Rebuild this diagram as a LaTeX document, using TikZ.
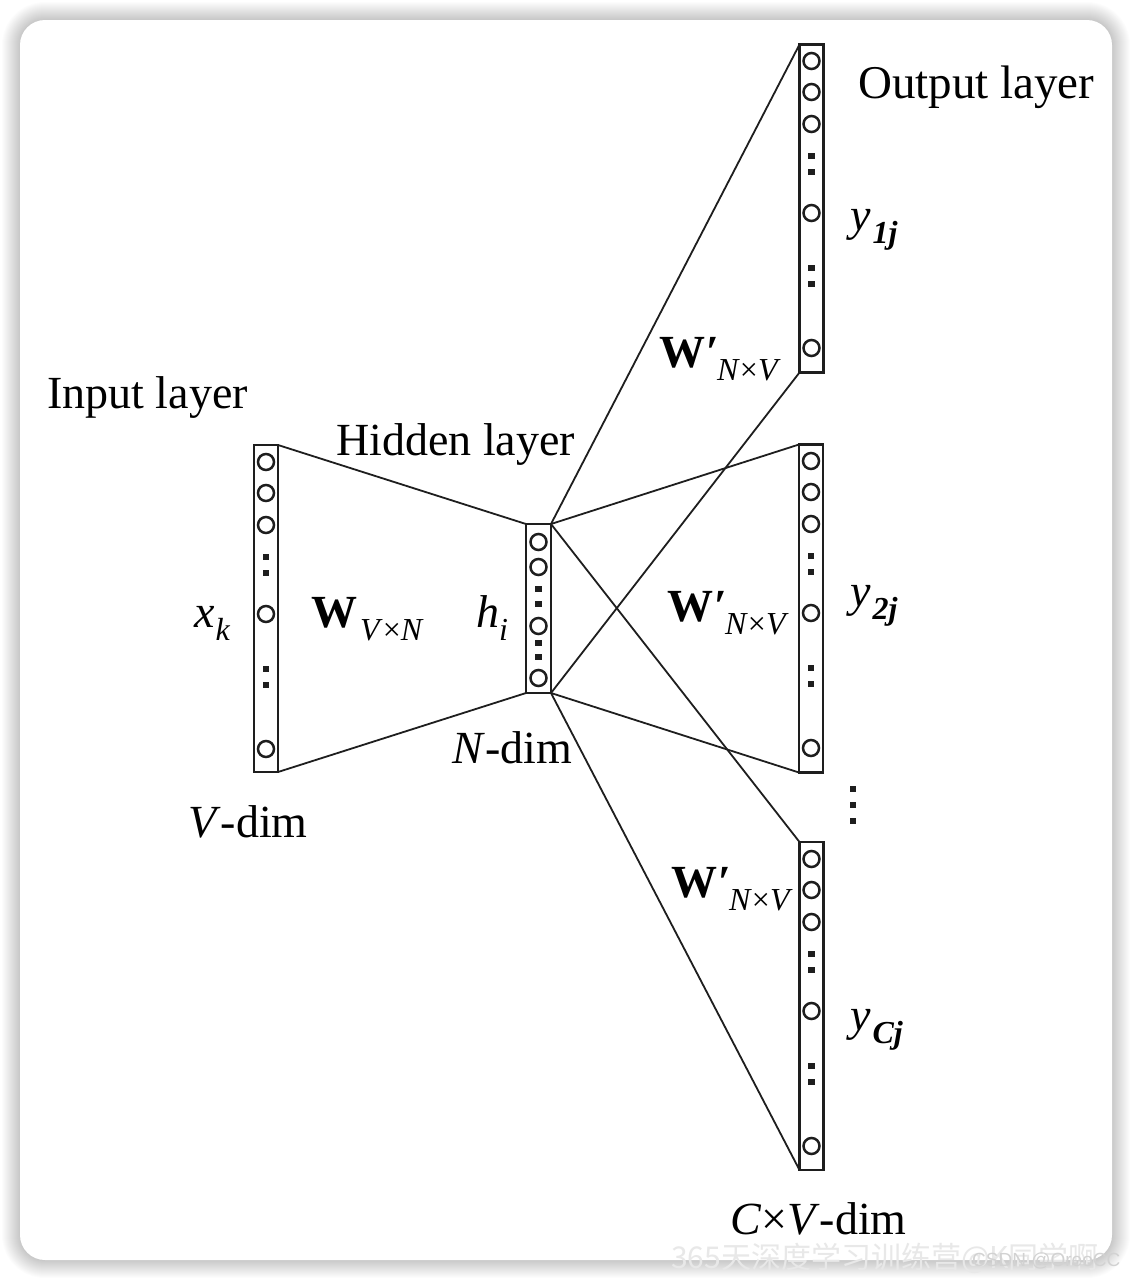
\documentclass[tikz,border=0pt]{standalone}
\usepackage{fontspec}
\setmainfont{Liberation Serif}
\newfontfamily\cjkfont{Noto Sans CJK SC}
\newfontfamily\wmfont{Liberation Sans}
\newcommand\colTall[2]{%
  \foreach \o in {17,48,80,169,304} \draw[neuron] (#1,#2+\o) circle (8);
  \foreach \o in {112,128,224,240} \fill[ink] (#1-3.3,#2+\o-3.3) rectangle ++(6.6,6.6);
}
\newcommand\subtxt[1]{\raisebox{-0.3em}{\fontsize{32}{34}\selectfont #1}}
\newcommand\wprime{\textbf{W}\kern1pt\textbf{′}\kern-2pt\subtxt{\textit{N}×\textit{V}}}
\definecolor{ink}{HTML}{1E1E1E}
\begin{document}
\begin{tikzpicture}[x=1pt,y=-1pt,
  layerbox/.style={draw=ink, line width=2.2pt, minimum width=24pt, inner sep=0pt, outer sep=0pt},
  conn/.style={draw=ink, line width=1.8pt},
  neuron/.style={draw=ink, line width=2.5pt},
  lbl/.style={font=\fontsize{46}{50}\selectfont, inner sep=0pt, anchor=base west, text=black},
  wm/.style={inner sep=0pt, anchor=base west, text=gray!18}
]
\useasboundingbox (0,0) rectangle (1132,1280);
\fill[white] (0,0) rectangle (1132,1280);
% card shadow
\foreach \i in {1,...,18}
  \fill[black, opacity=0.011, rounded corners=25+\i] (20-\i,20-\i) rectangle (1112+\i,1260+\i);
\fill[white, rounded corners=25] (20,20) rectangle (1112,1260);

% layers
\node[layerbox, minimum height=327pt] (in) at (266,608.5) {};
\node[layerbox, minimum height=169pt, minimum width=25pt] (hid) at (538.5,608.5) {};
\node[layerbox, minimum height=328pt] (o1) at (811.5,208.5) {};
\node[layerbox, minimum height=328pt] (o2) at (811,608.5) {};
\node[layerbox, minimum height=328pt] (o3) at (811.5,1006) {};

% neurons
\colTall{266}{445}
\colTall{811.5}{44}
\colTall{811}{444}
\colTall{811.5}{842}
\foreach \y in {542,567,626,678} \draw[neuron] (538.5,\y) circle (8);
\foreach \y in {589,604,643,657} \fill[ink] (538.5-3.3,\y-3.3) rectangle ++(6.6,6.6);
\foreach \y in {789,805,821} \fill[ink] (853-3.4,\y-3.4) rectangle ++(6.8,6.8);

% connectors
\draw[conn] (in.north east) -- (hid.north west);
\draw[conn] (in.south east) -- (hid.south west);
\draw[conn] (hid.north east) -- (o1.north west);
\draw[conn] (hid.south east) -- (o1.south west);
\draw[conn] (hid.north east) -- (o2.north west);
\draw[conn] (hid.south east) -- (o2.south west);
\draw[conn] (hid.north east) -- (o3.north west);
\draw[conn] (hid.south east) -- (o3.south west);

% labels
\node[lbl] (tin) at (47,408) {Input layer};
\node[lbl] (thid) at (336,455) {Hidden layer};
\node[lbl, font=\fontsize{47}{50}\selectfont] (tout) at (858,98) {Output layer};
\node[lbl] (xk) at (194,627) {\textit{x}\kern1pt\subtxt{\textit{k}}};
\node[lbl] (wvn) at (311,627) {\textbf{W}\kern3pt\subtxt{\textit{V}×\textit{N}}};
\node[lbl] (hi) at (476,627) {\textit{h}\subtxt{\textit{i}}};
\node[lbl] (ndim) at (452,763) {\textit{N}-dim};
\node[lbl] (vdim) at (188,837) {\textit{V}-dim};
\node[lbl] (w1) at (659,367) {\wprime};
\node[lbl] (w2) at (667,621) {\wprime};
\node[lbl] (w3) at (671,897) {\wprime};
\node[lbl] (y1) at (850,230) {\textit{y}\kern2pt\subtxt{\textbf{\textit{1j}}}};
\node[lbl] (y2) at (850,606) {\textit{y}\kern2pt\subtxt{\textbf{\textit{2j}}}};
\node[lbl] (yc) at (850,1030) {\textit{y}\kern2pt\subtxt{\textbf{\textit{Cj}}}};
\node[lbl] (cvdim) at (730,1234) {\textit{C}×\textit{V}-dim};

% watermark
\node[wm, font=\cjkfont\fontsize{30}{32}\selectfont] (wm1) at (671,1268) {365天深度学习训练营@K同学啊};
\node[wm, font=\wmfont\fontsize{19}{21}\selectfont, text=gray!35] (wm2) at (972,1266) {CSDN @OreoCC};
\end{tikzpicture}
\end{document}
